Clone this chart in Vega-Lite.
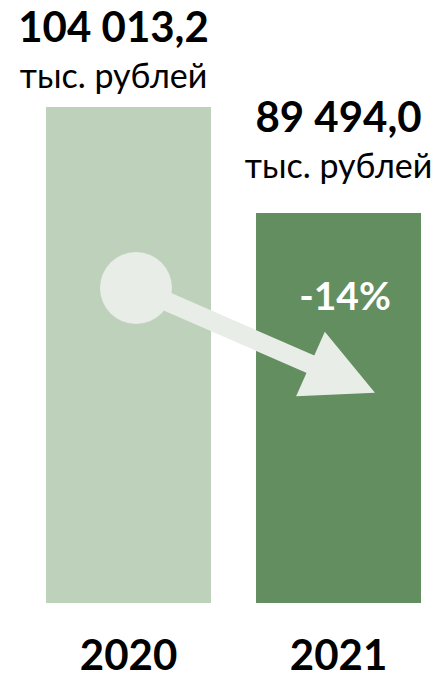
{
  "$schema": "https://vega.github.io/schema/vega-lite/v6.json",
  "autosize": "none",
  "padding": {"left": 0, "right": 0, "top": 0, "bottom": 73},
  "width": 434,
  "height": 603,
  "background": "white",
  "config": {"view": {"stroke": null}, "font": "Lato"},
  "datasets": {
    "bars": [
      {"year": "2020", "value": 104013.2, "label": "104 013,2", "unit": "тыс. рублей"},
      {"year": "2021", "value": 89494.0, "label": "89 494,0", "unit": "тыс. рублей", "change": "-14%"}
    ],
    "arrow": [
      {"part": "start", "x": 2020.0357, "y": 79221},
      {"part": "end", "x": 2021.0202, "y": 66852.6}
    ]
  },
  "resolve": {"scale": {"x": "independent"}},
  "layer": [
    {
      "data": {"name": "bars"},
      "encoding": {
        "x": {
          "field": "year", "type": "nominal", "sort": ["2020", "2021"],
          "scale": {"paddingInner": 0.2143, "paddingOuter": 0.1405, "align": 0.78},
          "axis": {
            "title": null, "domain": false, "ticks": false, "tickSize": 0,
            "labelAngle": 0, "labelFont": "Lato", "labelFontSize": 42,
            "labelFontWeight": "bold", "labelColor": "#000000",
            "labelBaseline": "alphabetic", "labelPadding": 66
          }
        },
        "y": {
          "field": "value", "type": "quantitative",
          "scale": {"domain": [36074.5, 118669.5], "zero": false, "nice": false},
          "axis": null
        }
      },
      "layer": [
        {
          "mark": {"type": "bar"},
          "encoding": {
            "y2": {"datum": 36074.5},
            "color": {
              "field": "year", "type": "nominal", "legend": null,
              "scale": {"domain": ["2020", "2021"], "range": ["#bed1bb", "#638e60"]}
            }
          }
        },
        {
          "transform": [{"filter": "datum.change != null"}],
          "mark": {"type": "text", "font": "Lato", "fontSize": 39, "fontWeight": "bold", "baseline": "alphabetic", "align": "center", "dx": 6.5, "dy": 96.5, "color": "#ffffff"},
          "encoding": {"text": {"field": "change"}}
        },
        {
          "transform": [{"filter": "datum.year === '2020'"}],
          "mark": {"type": "text", "font": "Lato", "fontSize": 42, "fontWeight": "bold", "baseline": "alphabetic", "align": "center", "dx": -15, "dy": -65, "color": "#000000"},
          "encoding": {"text": {"field": "label"}}
        },
        {
          "transform": [{"filter": "datum.year === '2020'"}],
          "mark": {"type": "text", "font": "Lato", "fontSize": 34, "baseline": "alphabetic", "align": "center", "dx": -15, "dy": -19, "color": "#000000"},
          "encoding": {"text": {"field": "unit"}}
        },
        {
          "transform": [{"filter": "datum.year === '2021'"}],
          "mark": {"type": "text", "font": "Lato", "fontSize": 42, "fontWeight": "bold", "baseline": "alphabetic", "align": "center", "dx": 0, "dy": -81, "color": "#000000"},
          "encoding": {"text": {"field": "label"}}
        },
        {
          "transform": [{"filter": "datum.year === '2021'"}],
          "mark": {"type": "text", "font": "Lato", "fontSize": 34, "baseline": "alphabetic", "align": "center", "dx": 0, "dy": -35, "color": "#000000"},
          "encoding": {"text": {"field": "unit"}}
        }
      ]
    },
    {
      "data": {"name": "arrow"},
      "encoding": {
        "x": {"field": "x", "type": "quantitative", "scale": {"domain": [2019.388, 2021.455], "zero": false, "nice": false}, "axis": null},
        "y": {"field": "y", "type": "quantitative", "axis": null}
      },
      "layer": [
        {
          "mark": {"type": "line", "color": "#e8ede7", "strokeWidth": 19, "strokeCap": "butt"}
        },
        {
          "transform": [{"filter": "datum.part === 'start'"}],
          "mark": {"type": "point", "shape": "circle", "filled": true, "size": 5184, "color": "#e8ede7", "opacity": 1, "strokeWidth": 0}
        },
        {
          "transform": [{"filter": "datum.part === 'end'"}],
          "mark": {"type": "point", "shape": "M1,0L-1,-1L-1,1Z", "filled": true, "size": 4984, "angle": 24, "color": "#e8ede7", "opacity": 1, "strokeWidth": 0}
        }
      ]
    }
  ]
}
